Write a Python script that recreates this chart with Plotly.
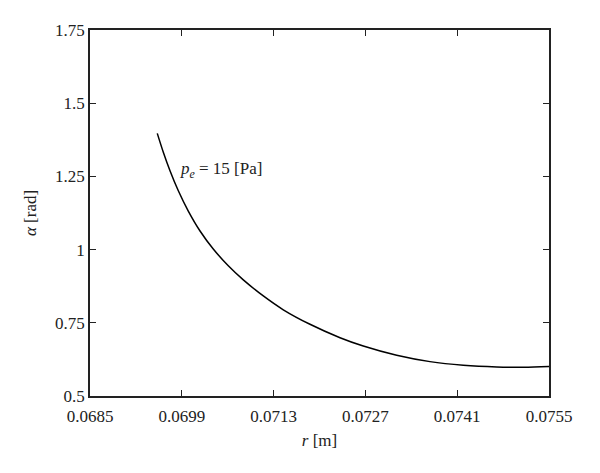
import plotly.graph_objects as go

r_vals = [0.069526, 0.069618, 0.06972, 0.069847, 0.069999, 0.070178, 0.07038,
          0.070609, 0.070838, 0.071143, 0.071448, 0.071855, 0.072313, 0.072668,
          0.073177, 0.073685, 0.074193, 0.074702, 0.075108, 0.0755]
alpha_vals = [1.397, 1.3326, 1.2694, 1.2008, 1.1316, 1.0636, 1.0020,
              0.9447, 0.8966, 0.8417, 0.7945, 0.7449, 0.6991, 0.6707,
              0.6392, 0.6174, 0.6050, 0.5992, 0.5985, 0.6009]

x_ticks = [0.0685, 0.0699, 0.0713, 0.0727, 0.0741, 0.0755]
x_tick_text = ["0.0685", "0.0699", "0.0713", "0.0727", "0.0741", "0.0755"]
y_ticks = [0.5, 0.75, 1.0, 1.25, 1.5, 1.75]
y_tick_text = ["0.5", "0.75", "1", "1.25", "1.5", "1.75"]

font_family = "Liberation Serif"
ink = "#222"

fig = go.Figure()
fig.add_trace(go.Scatter(x=r_vals, y=alpha_vals, mode="lines",
                         line=dict(color="black", width=1.5, shape="spline", smoothing=1.0),
                         showlegend=False, hoverinfo="skip"))

fig.add_annotation(x=0.069842, y=1.272, xref="x", yref="y",
                   text="<i>p<sub>e</sub></i> = 15 [Pa]", showarrow=False,
                   xanchor="left", yanchor="middle",
                   font=dict(family=font_family, size=17, color=ink))

axis_common = dict(showgrid=False, zeroline=False, showline=True, linecolor=ink,
                   linewidth=1.5, mirror="ticks", ticks="inside", ticklen=6,
                   tickwidth=1.2, tickcolor=ink,
                   tickfont=dict(family=font_family, size=17, color=ink))

fig.update_xaxes(range=[0.0685, 0.0755], tickvals=x_ticks, ticktext=x_tick_text,
                 ticklabelstandoff=4,
                 title=dict(text="<i>r</i> [m]", font=dict(family=font_family, size=17, color=ink),
                            standoff=9),
                 **axis_common)
fig.update_yaxes(range=[0.5, 1.75], tickvals=y_ticks, ticktext=y_tick_text,
                 title=dict(text="<i>α</i> [rad]", font=dict(family=font_family, size=17, color=ink),
                            standoff=14),
                 **axis_common)

fig.update_layout(width=592, height=465, plot_bgcolor="white", paper_bgcolor="white",
                  margin=dict(l=82, r=51, t=22, b=77))

fig.write_html("out.html")
